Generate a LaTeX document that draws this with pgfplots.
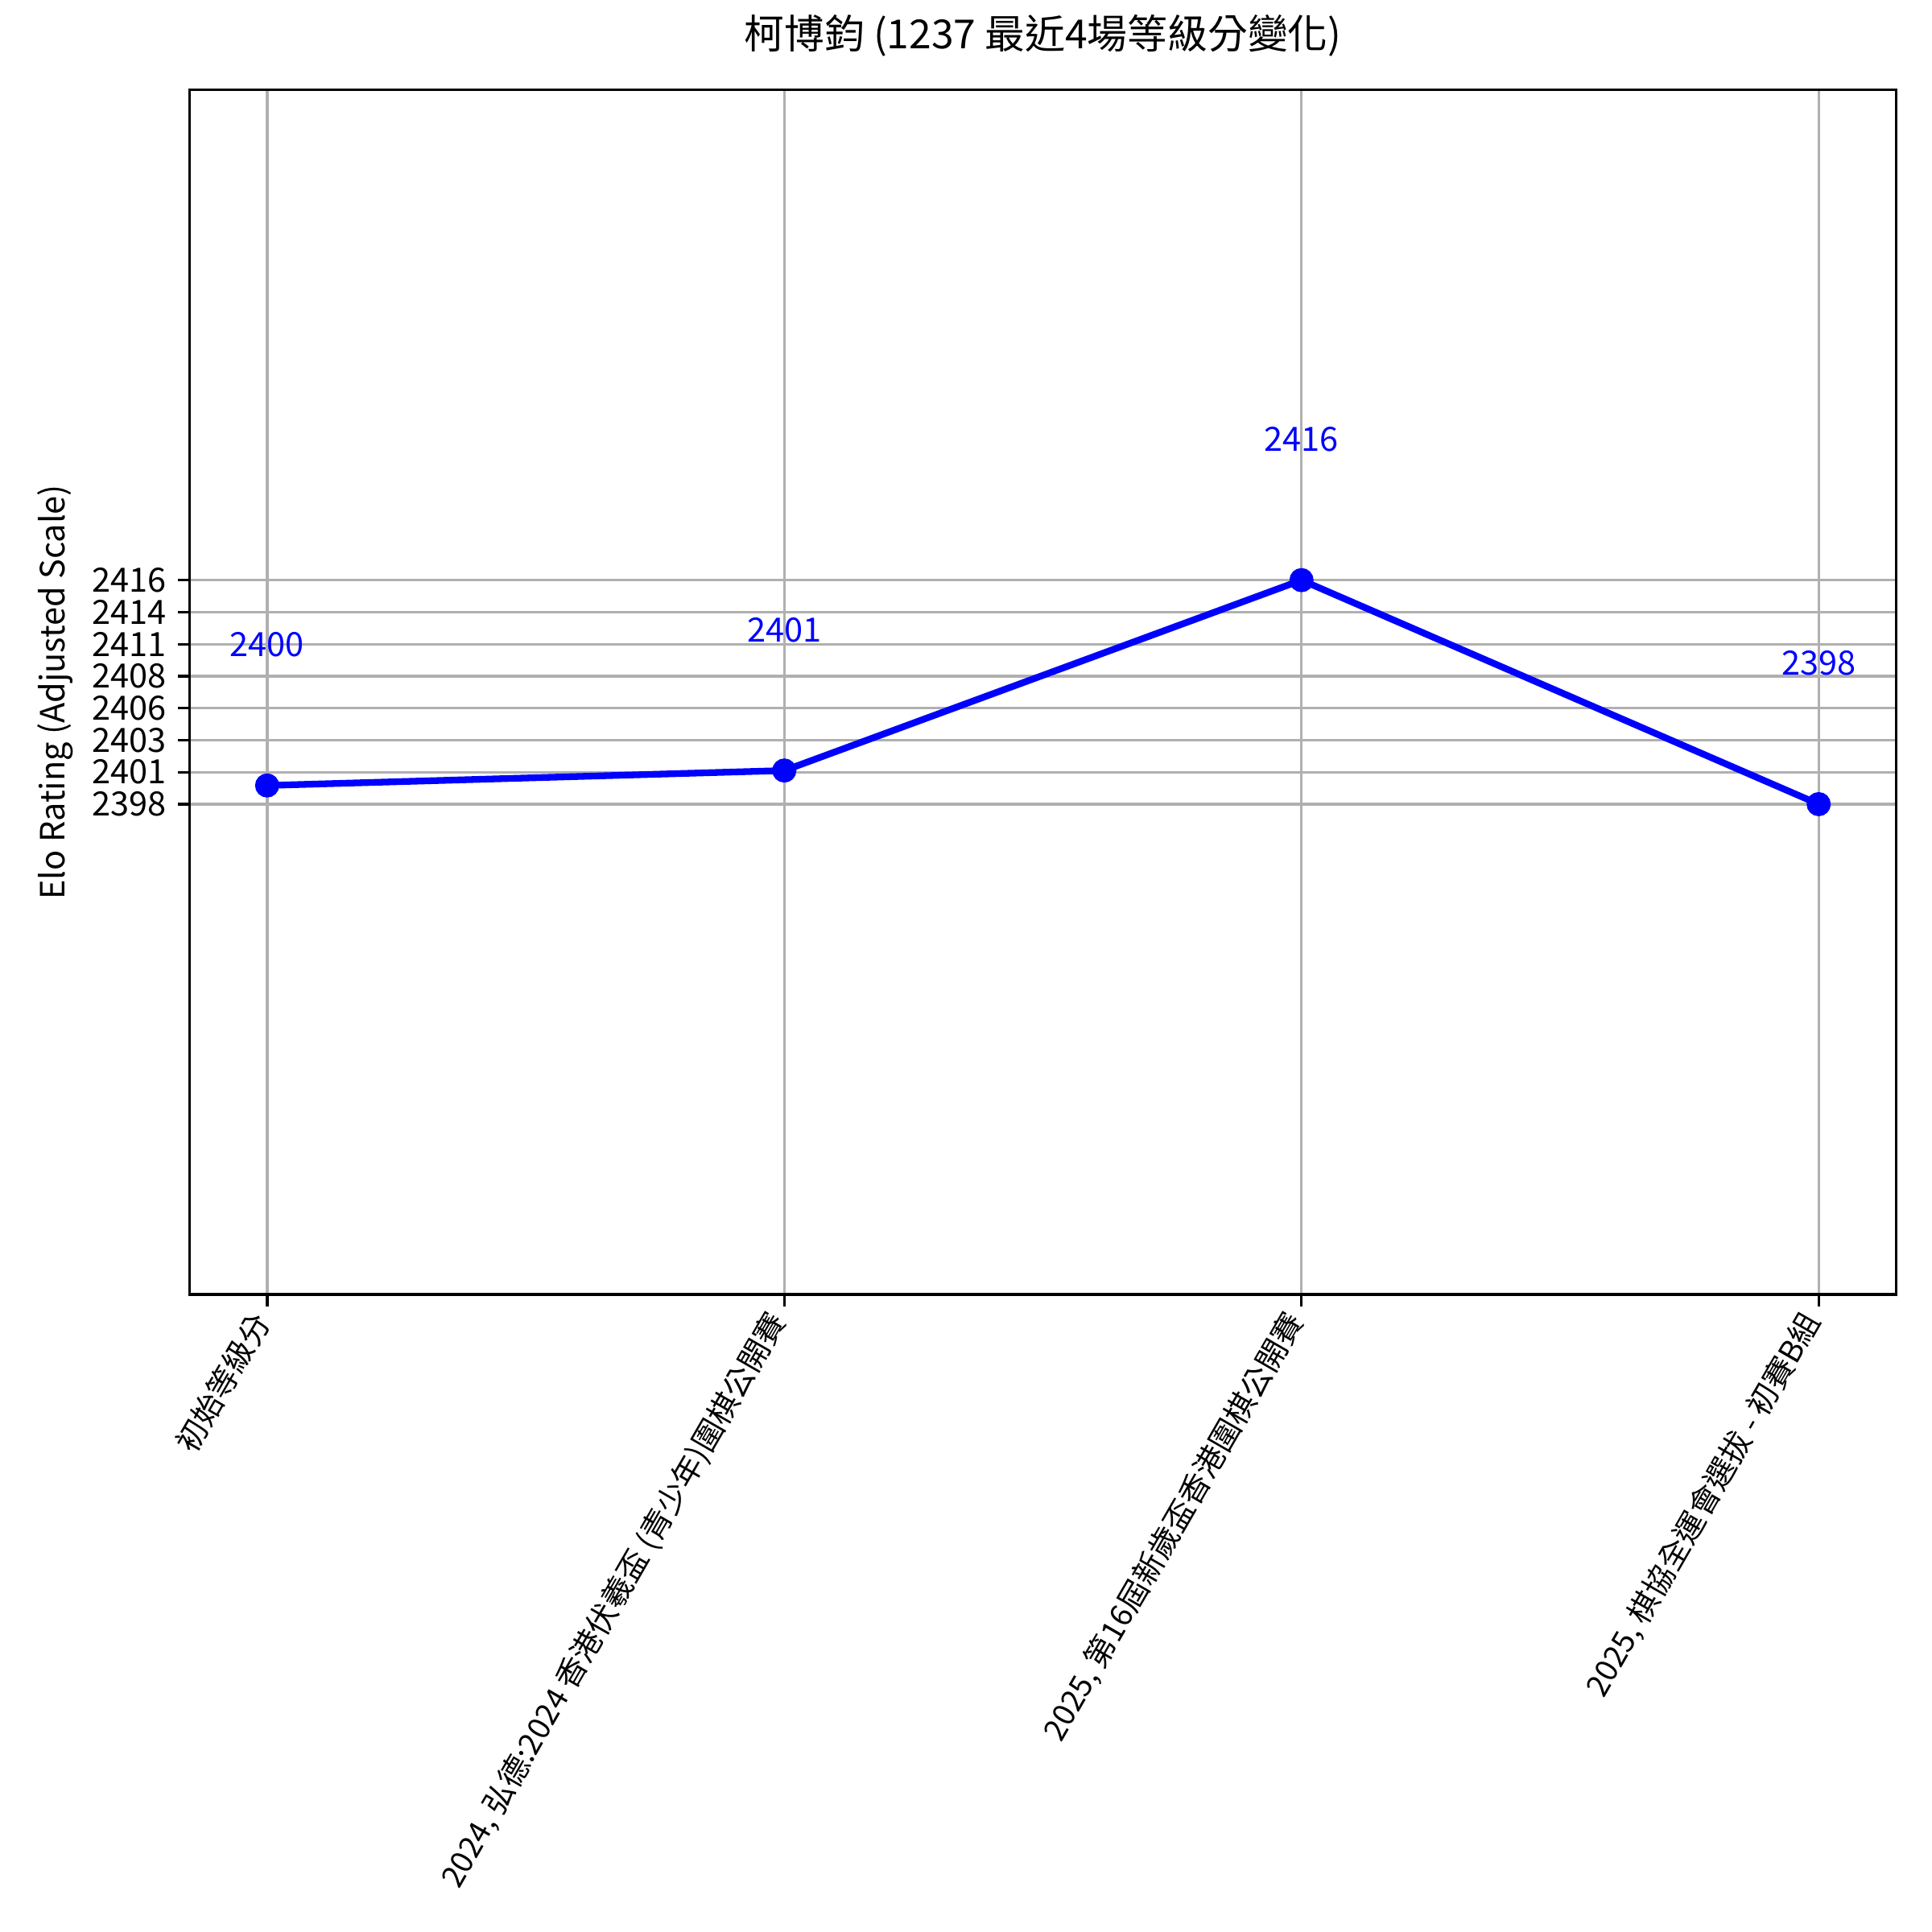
\documentclass[border=0pt]{standalone}
\usepackage{fontspec}
\setmainfont{Noto Sans CJK TC}
\usepackage{pgfplots}
\pgfplotsset{compat=1.18}
\definecolor{gridgray}{HTML}{B0B0B0}
\begin{document}
\begin{tikzpicture}
\useasboundingbox (-0.785in,-2.64in) rectangle (7.215in,5.36in);
\begin{axis}[
  at={(0,0)}, anchor=south west,
  scale only axis, width=7.067in, height=4.988in,
  xmin=-0.15, xmax=3.15, ymin=2358.6, ymax=2455.4,
  xtick={0,1,2,3},
  xticklabels={{初始等級分},{2024, 弘德:2024 香港伏羲盃 (青少年)圍棋公開賽},{2025, 第16屆新歲盃香港圍棋公開賽},{2025, 棋協全運會選拔 - 初賽B組}},
  ytick={2398,2400.5714,2403.1429,2405.7143,2408.2857,2410.8571,2413.4286,2416},
  yticklabels={2398,2401,2403,2406,2408,2411,2414,2416},
  grid=major, major grid style={gridgray, line width=0.8pt},
  tick align=outside, major tick length=3.5pt,
  tick style={black, line width=0.8pt},
  xtick pos=left, ytick pos=left,
  axis line style={line width=0.8pt},
  /pgf/number format/assume math mode=true,
  tick label style={font=\fontsize{10}{12}\selectfont},
  x tick label style={rotate=60, anchor=east, font=\fontsize{9.2}{11}\selectfont},
  title={柯博鈞 (1237 最近4場等級分變化)},
  title style={font=\fontsize{12}{14}\selectfont, at={(axis description cs:0.5,1)}, anchor=center, yshift=10.2pt},
  ylabel={Elo Rating (Adjusted Scale)},
  ylabel style={font=\fontsize{10}{12}\selectfont, at={(axis description cs:-0.0786,0.5)}, rotate=0, anchor=center},
  nodes near coords, point meta=explicit symbolic,
  every node near coord/.append style={text=blue, anchor=center, yshift=42.1pt, font=\fontsize{10}{12}\selectfont},
]
\addplot[blue, line width=2pt, mark=*, mark size=2.6pt, mark options={solid, fill=blue}]
  coordinates {(0,2399.5)[2400] (1,2400.7)[2401] (2,2416)[2416] (3,2398)[2398]};
\end{axis}
\end{tikzpicture}
\end{document}
